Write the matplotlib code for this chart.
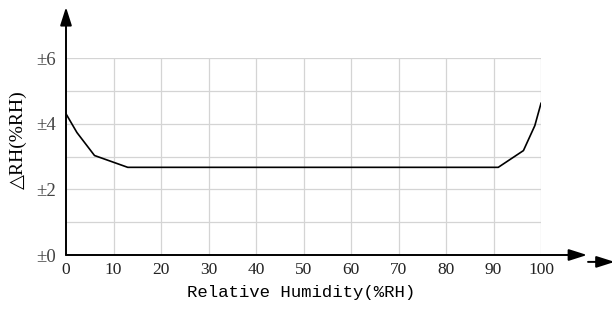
import matplotlib
matplotlib.use("Agg")
import matplotlib.pyplot as plt

# dati
rh = [0, 2.3, 6, 13, 91, 96.3, 98.7, 100]
err = [4.3, 3.73, 3.03, 2.67, 2.67, 3.18, 3.94, 4.62]
xticks = [0, 10, 20, 30, 40, 50, 60, 70, 80, 90, 100]
yticks = [0, 2, 4, 6]
ylabels = ["±0", "±2", "±4", "±6"]

W, H = 612, 311
fig = plt.figure(figsize=(W / 100, H / 100), dpi=100)
ax = fig.add_axes([66 / W, 1 - 255 / H, (541 - 66) / W, (255 - 58) / H])
ax.set_xlim(0, 100)
ax.set_ylim(0, 6)

# griglia
for x in xticks[1:]:
    ax.axvline(x, color="#d4d4d4", lw=0.9, zorder=0)
for y in range(1, 7):
    ax.axhline(y, color="#d4d4d4", lw=0.9, zorder=0)

ax.plot(rh, err, color="black", lw=1.2, zorder=3)

for s in ax.spines.values():
    s.set_visible(False)
ax.set_xticks(xticks)
ax.set_xticklabels([str(t) for t in xticks], family="Liberation Serif", fontsize=12.5, color="#222222")
ax.set_yticks(yticks)
ax.set_yticklabels(ylabels, family="Liberation Serif", fontsize=13.5, color="#444444")
ax.tick_params(axis="x", length=0, pad=5)
ax.tick_params(axis="y", length=0, pad=7)

# assi con frecce
st = "-|>,head_length=1.1,head_width=0.35"
ax.annotate("", xy=(0, 7.55), xytext=(0, 0), annotation_clip=False,
            arrowprops=dict(arrowstyle=st, color="black", lw=1.4, shrinkA=0, shrinkB=0))
ax.annotate("", xy=(109.7, 0), xytext=(0, 0), annotation_clip=False,
            arrowprops=dict(arrowstyle=st, color="black", lw=1.4, shrinkA=0, shrinkB=0))
ax.annotate("", xy=(115.5, -0.21), xytext=(109.9, -0.21), annotation_clip=False,
            arrowprops=dict(arrowstyle=st, color="black", lw=1.4, shrinkA=0, shrinkB=0))

fig.text(18 / W, 1 - 140 / H, "△RH(%RH)", rotation=90, ha="center", va="center",
         fontsize=14, family=["Liberation Serif", "DejaVu Sans"])
fig.text(301 / W, 1 - 293 / H, "Relative Humidity(%RH)", ha="center", va="center",
         fontsize=12.5, family="Liberation Mono")

fig.savefig("out.png", dpi=100)
